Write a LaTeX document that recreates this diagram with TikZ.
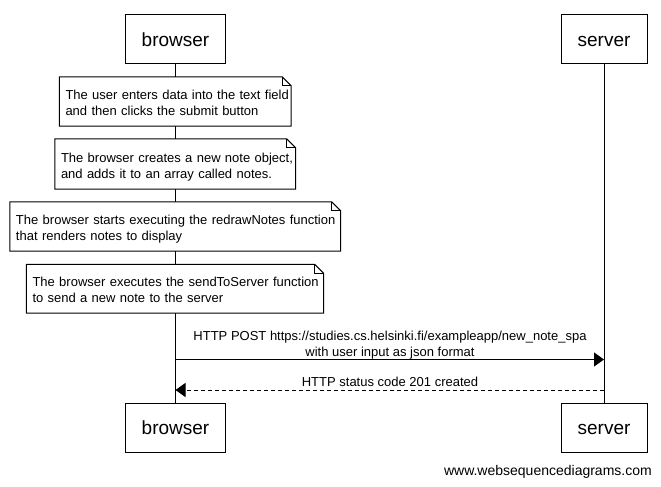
\documentclass[tikz,border=0pt]{standalone}
\usepackage{fontspec}
\setmainfont{Liberation Sans}
\usetikzlibrary{arrows.meta}
\newcommand{\notefold}[1]{%
  \draw[outline] (#1.south west) -- (#1.north west) -- ([xshift=-9pt]#1.north east) -- ([yshift=-9pt]#1.north east) -- (#1.south east) -- cycle;
  \draw[outline] ([xshift=-9pt]#1.north east) -- ([xshift=-9pt,yshift=-9pt]#1.north east) -- ([yshift=-9pt]#1.north east);}
\begin{document}
\begin{tikzpicture}[x=1pt,y=-1pt,
  outline/.style={draw=black, line width=1pt},
  actor/.style={draw=black, line width=1pt, fill=white, minimum height=49pt, inner sep=0pt, text height=13.6pt, text depth=0pt, font=\fontsize{19}{22}\selectfont},
  notebox/.style={fill=white, inner xsep=6pt, inner ysep=0pt, align=left, text height=12pt, text depth=16pt, font=\fontsize{13}{16}\selectfont},
  msg/.style={font=\fontsize{13}{16}\selectfont, align=center, inner sep=0pt, anchor=base},
  life/.style={draw=black, line width=1pt},
  call/.style={draw=black, line width=1pt, -{Triangle[length=10pt,width=14pt]}},
  reply/.style={draw=black, line width=1pt, dash pattern=on 4pt off 3pt, -{Triangle[length=10pt,width=14pt]}}
]
\fill[white] (0,0) rectangle (661,487);
\useasboundingbox (0,0) rectangle (661,487);

% actors
\node[actor, minimum width=100pt] (bt) at (175.5,39.5) {browser};
\node[actor, minimum width=86pt] (st) at (604,39.5) {server};
\node[actor, minimum width=100pt] (bb) at (175.5,428) {browser};
\node[actor, minimum width=86pt] (sb) at (604,428) {server};

% lifelines
\draw[life] (bt.south) -- (bb.north);
\draw[life] (st.south) -- (sb.north);

% notes
\node[notebox, text width=219.5pt, minimum height=49pt] (n1) at (175.25,101.5)
  {\mbox{The user enters data into the text field}\\\mbox{and then clicks the submit button}};
\notefold{n1}
\node[notebox, text width=228.5pt, minimum height=50pt] (n2) at (175.25,164)
  {\mbox{The browser creates a new note object,}\\\mbox{and adds it to an array called notes.}};
\notefold{n2}
\node[notebox, text width=318.5pt, minimum height=49pt] (n3) at (175.25,226.5)
  {\mbox{The browser starts executing the redrawNotes function}\\\mbox{that renders notes to display}};
\notefold{n3}
\node[notebox, text width=285pt, minimum height=48.5pt] (n4) at (175,288.75)
  {\mbox{The browser executes the sendToServer function}\\\mbox{to send a new note to the server}};
\notefold{n4}

% messages
\coordinate (b1) at (175.5,359.5);
\coordinate (s1) at (604,359.5);
\coordinate (s2) at (604,390);
\coordinate (b2) at (175.5,390);
\draw[call] (b1) -- (s1);
\node[msg] (m1) at (390,356.3) {HTTP POST https://studies.cs.helsinki.fi/exampleapp/new\_note\_spa\\with user input as json format};
\draw[reply] (s2) -- (b2);
\node[msg] (m2) at (390,386) {HTTP status code 201 created};

% watermark
\node[anchor=base east, inner sep=0pt, font=\fontsize{14}{16}\selectfont] (wm) at (652,475) {www.websequencediagrams.com};
\end{tikzpicture}
\end{document}
